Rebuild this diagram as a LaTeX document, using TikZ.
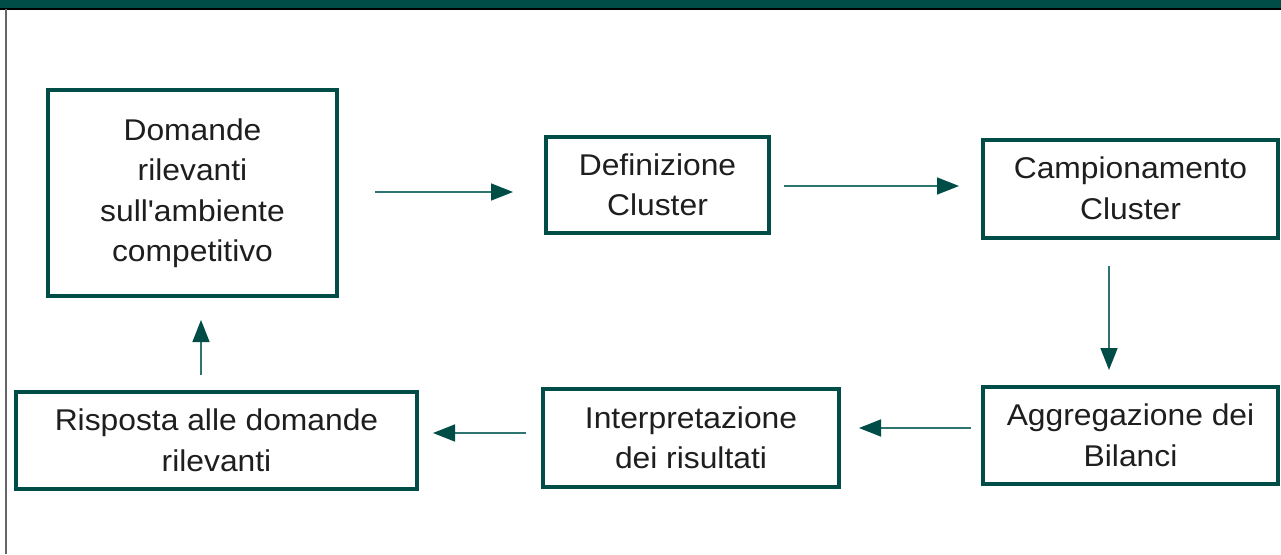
\documentclass[tikz,border=0pt]{standalone}
\usepackage{fontspec}
\setmainfont{Liberation Sans}
\newfontfamily\boxfont{Liberation Sans}[FakeStretch=1.06]
\usetikzlibrary{arrows.meta,calc}
\definecolor{teal1}{HTML}{004D48}
\definecolor{teal2}{HTML}{2E7470}
\definecolor{txt}{HTML}{1E1E1E}
\tikzset{
  stepbox/.style={draw=teal1, line width=4pt, fill=white, rectangle, align=center,
    text=txt, font=\boxfont\fontsize{30}{40.5}\selectfont, inner sep=0pt},
  arr/.style={draw=teal2, line width=1.6pt, -{Triangle[length=22pt,width=17pt,color=teal1,fill=teal1]}},
}
\begin{document}
\begin{tikzpicture}[x=1pt,y=-1pt]
\useasboundingbox (0,0) rectangle (1281,554);
\fill[white] (0,0) rectangle (1281,554);
% top band and left rule
\fill[teal1] (0,0) rectangle (1281,8);
\fill[black] (0,8) rectangle (1281,9.5);
\draw[gray!80!black, line width=1.5pt] (6,9) -- (6,554);
% boxes
\node[stepbox, minimum width=289pt, minimum height=206pt] (b1) at (192.5,193) {Domande\\rilevanti\\sull'ambiente\\competitivo};
\node[stepbox, minimum width=223pt, minimum height=96pt] (b2) at (657.5,185) {Definizione\\Cluster};
\node[stepbox, minimum width=295pt, minimum height=98pt] (b3) at (1130.5,188.5) {Campionamento\\Cluster};
\node[stepbox, minimum width=295pt, minimum height=97pt] (b4) at (1130.5,435.5) {Aggregazione dei\\Bilanci};
\node[stepbox, minimum width=296pt, minimum height=98pt] (b5) at (691,438) {Interpretazione\\dei risultati};
\node[stepbox, minimum width=401pt, minimum height=97pt] (b6) at (216.5,440.5) {Risposta alle domande\\rilevanti};
% arrows
\draw[arr] ($(b1.east)+(36,-1)$) -- ($(b2.west |- b1.east)+(-31,-1)$);
\draw[arr] ($(b2.east)+(13,1)$) -- ($(b3.west |- b2.east)+(-22,1)$);
\draw[arr] ($(b3.south)+(-21.5,26)$) -- ($(b4.north)+(-21.5,-15)$);
\draw[arr] ($(b4.west)+(-10,-7.5)$) -- ($(b5.east |- b4.west)+(18,-7.5)$);
\draw[arr] ($(b5.west)+(-15,-5)$) -- ($(b6.east |- b5.west)+(14,-5)$);
\draw[arr] ($(b6.north)+(-15.5,-15)$) -- ($(b1.south -| b6.north)+(-15.5,22)$);
\end{tikzpicture}
\end{document}
